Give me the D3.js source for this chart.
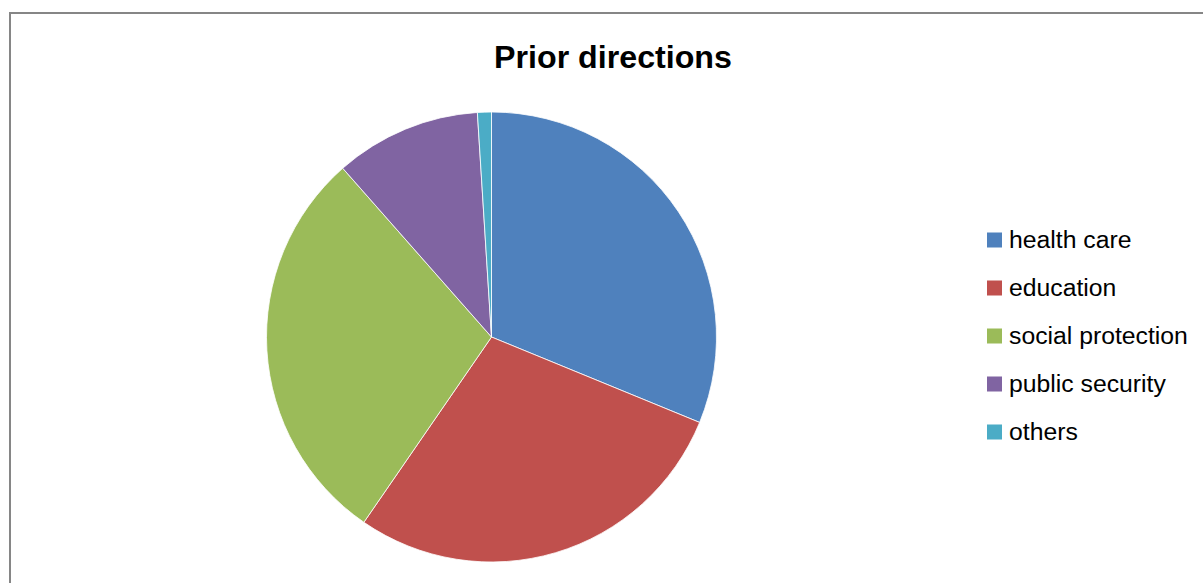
<!DOCTYPE html>
<html><head><meta charset="utf-8">
<script src="https://cdn.jsdelivr.net/npm/d3@7"></script>
<style>html,body{margin:0;padding:0;background:#fff;overflow:hidden}</style>
</head><body><svg id="c" width="1203" height="583"></svg>
<script>
const categories = ["health care", "education", "social protection", "public security", "others"];
const values = [31.2, 28.4, 28.9, 10.5, 1.0];
const colors = ["#4F81BD", "#C0504D", "#9BBB59", "#8064A2", "#4BACC6"];
const title = "Prior directions";

const svg = d3.select("#c");
// chart frame (extends past the right and bottom edges of the view)
svg.append("rect").attr("x", 10).attr("y", 13).attr("width", 1300).attr("height", 620)
  .attr("fill", "#fff").attr("stroke", "#868686").attr("stroke-width", 2);

const t = svg.append("text").attr("x", 613).attr("y", 68).attr("text-anchor", "middle")
  .attr("font-family", "Liberation Sans, Arial, sans-serif").attr("font-weight", "bold")
  .attr("font-size", 28).attr("fill", "#000").text(title);
const tw = t.node().getComputedTextLength();
t.attr("font-size", 28 * 238 / tw);

const cx = 491.5, cy = 337, r = 225;
const pie = d3.pie().sort(null).value(d => d)(values);
const arc = d3.arc().innerRadius(0).outerRadius(r);
svg.append("g").attr("transform", `translate(${cx},${cy})`)
  .selectAll("path").data(pie).join("path")
  .attr("d", arc).attr("fill", (d, i) => colors[i])
  .attr("stroke", "#fff").attr("stroke-width", 0.8);

const y = d3.scalePoint().domain(categories).range([240, 432]);
const lg = svg.append("g");
lg.selectAll("rect").data(categories).join("rect")
  .attr("x", 987).attr("y", d => y(d) - 7.5).attr("width", 15).attr("height", 15)
  .attr("fill", (d, i) => colors[i]);
const lt = lg.selectAll("text").data(categories).join("text")
  .attr("x", 1009).attr("y", d => y(d) + 7.5)
  .attr("font-family", "Liberation Sans, Arial, sans-serif").attr("font-size", 20)
  .attr("fill", "#000").text(d => d);
const w = lt.filter(d => d === "social protection").node().getComputedTextLength();
lt.attr("font-size", 20 * 179 / w);
</script></body></html>
